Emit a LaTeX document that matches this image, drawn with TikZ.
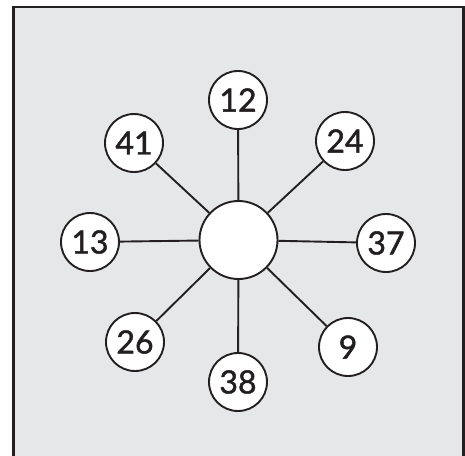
\documentclass[tikz,border=0pt]{standalone}
\usepackage{fontspec}
\setmainfont[FakeBold=1.5]{Lato}
\definecolor{bg}{HTML}{E6E7E9}
\definecolor{ink}{HTML}{231F20}
\begin{document}
\begin{tikzpicture}[x=1pt,y=-1pt,
  leaf/.style={circle,draw=ink,fill=white,line width=1.9pt,minimum size=58pt,inner sep=0pt,font=\fontsize{32}{34}\selectfont,text=ink},
  hub/.style={circle,draw=ink,fill=white,line width=1.9pt,minimum size=78pt},
  spoke/.style={draw=ink,line width=1.9pt}]
\useasboundingbox (0,0) rectangle (465,455);
\begin{scope}
\clip (0,0) rectangle (465,455);
\draw[draw=ink,fill=bg,line width=2.5pt] (13.5,7) rectangle (463.5,470);
\end{scope}
\node[hub] (c) at (238.5,240) {};
\node[leaf] (n12) at (238,100) {12};
\node[leaf] (n24) at (345,141) {24};
\node[leaf] (n37) at (386,243) {37};
\node[leaf] (n9) at (348,347) {9};
\node[leaf] (n38) at (238,382) {38};
\node[leaf] (n26) at (135,342) {26};
\node[leaf] (n13) at (90,242) {13};
\node[leaf] (n41) at (134,143) {41};
\foreach \n in {n12,n24,n37,n9,n38,n26,n13,n41}
  \draw[spoke] (c) -- (\n);
\end{tikzpicture}
\end{document}
